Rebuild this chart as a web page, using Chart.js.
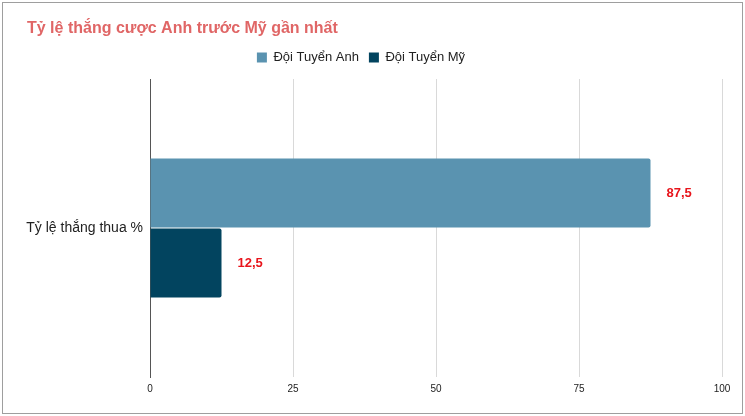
<!DOCTYPE html>
<html>
<head>
<meta charset="utf-8">
<script src="https://cdn.jsdelivr.net/npm/chart.js@4.4.1/dist/chart.umd.min.js"></script>
<style>
  html, body { margin: 0; padding: 0; background: #fff; }
  #wrap { position: relative; width: 745px; height: 416px; }
  #frame { position: absolute; left: 2px; top: 2px; width: 739px; height: 410px; border: 1px solid #9e9e9e; pointer-events: none; }
</style>
</head>
<body>
<div id="wrap">
  <canvas id="chart" width="745" height="416"></canvas>
  <div id="frame"></div>
</div>
<script>
// dữ liệu biểu đồ
const chartTitle = 'Tỷ lệ thắng cược Anh trước Mỹ gần nhất';
const categories = ['Tỷ lệ thắng thua %'];
const seriesNames = ['Đội Tuyển Anh', 'Đội Tuyển Mỹ'];
const anhValues = [87.5];
const myValues = [12.5];
const xTicks = [0, 25, 50, 75, 100];

const FONT = 'Arial, "Liberation Sans", sans-serif';

// vẽ tiêu đề ở góc trái trên
const titlePlugin = {
  id: 'titleDraw',
  afterDraw(chart) {
    const ctx = chart.ctx;
    ctx.save();
    ctx.font = 'bold 16px ' + FONT;
    ctx.fillStyle = '#e06666';
    ctx.textAlign = 'left';
    ctx.textBaseline = 'alphabetic';
    ctx.fillText(chartTitle, 27, 33);
    ctx.restore();
  },
};

// thêm khoảng cách dưới chú thích
const legendGap = {
  id: 'legendGap',
  beforeInit(chart) {
    const fit = chart.legend.fit;
    chart.legend.fit = function () {
      fit.bind(chart.legend)();
      this.height += 5;
    };
  },
};

// nhãn giá trị bên phải thanh
const valueLabels = {
  id: 'valueLabels',
  afterDatasetsDraw(chart) {
    const ctx = chart.ctx;
    ctx.save();
    ctx.font = 'bold 13px ' + FONT;
    ctx.fillStyle = '#e8141b';
    ctx.textAlign = 'left';
    ctx.textBaseline = 'middle';
    chart.data.datasets.forEach((ds, i) => {
      const meta = chart.getDatasetMeta(i);
      meta.data.forEach((bar, j) => {
        const text = ds.data[j].toLocaleString('vi-VN');
        ctx.fillText(text, bar.x + 16, bar.y);
      });
    });
    ctx.restore();
  },
};

const ctx = document.getElementById('chart').getContext('2d');
new Chart(ctx, {
  type: 'bar',
  data: {
    labels: categories,
    datasets: [
      {
        label: seriesNames[0],
        data: anhValues,
        backgroundColor: '#5a93b0',
        borderRadius: 2,
        borderSkipped: 'start',
        categoryPercentage: 0.47,
        barPercentage: 0.985,
      },
      {
        label: seriesNames[1],
        data: myValues,
        backgroundColor: '#02445f',
        borderRadius: 2,
        borderSkipped: 'start',
        categoryPercentage: 0.47,
        barPercentage: 0.985,
      },
    ],
  },
  options: {
    indexAxis: 'y',
    responsive: false,
    animation: false,
    layout: { padding: { top: 41, right: 23, bottom: 15, left: 0 } },
    plugins: {
      legend: {
        position: 'top',
        align: 'center',
        labels: {
          boxWidth: 10,
          boxHeight: 10,
          padding: 10,
          color: '#222',
          font: { family: FONT, size: 13 },
        },
      },
      title: { display: false },
      tooltip: { enabled: false },
    },
    scales: {
      x: {
        min: 0,
        max: 100,
        afterBuildTicks(scale) {
          scale.ticks = xTicks.map((v) => ({ value: v }));
        },
        grid: {
          color: (c) => (c.tick && c.tick.value === 0 ? '#555' : '#d9d9d9'),
          drawTicks: false,
        },
        border: { display: false },
        ticks: {
          padding: 6,
          color: '#222',
          font: { family: FONT, size: 10 },
        },
      },
      y: {
        afterFit(scale) {
          scale.width = 150;
        },
        grid: { display: false, drawTicks: false },
        border: { display: true, color: '#555', width: 1 },
        ticks: {
          padding: 7,
          color: '#222',
          font: { family: FONT, size: 14 },
        },
      },
    },
  },
  plugins: [titlePlugin, legendGap, valueLabels],
});
</script>
</body>
</html>
